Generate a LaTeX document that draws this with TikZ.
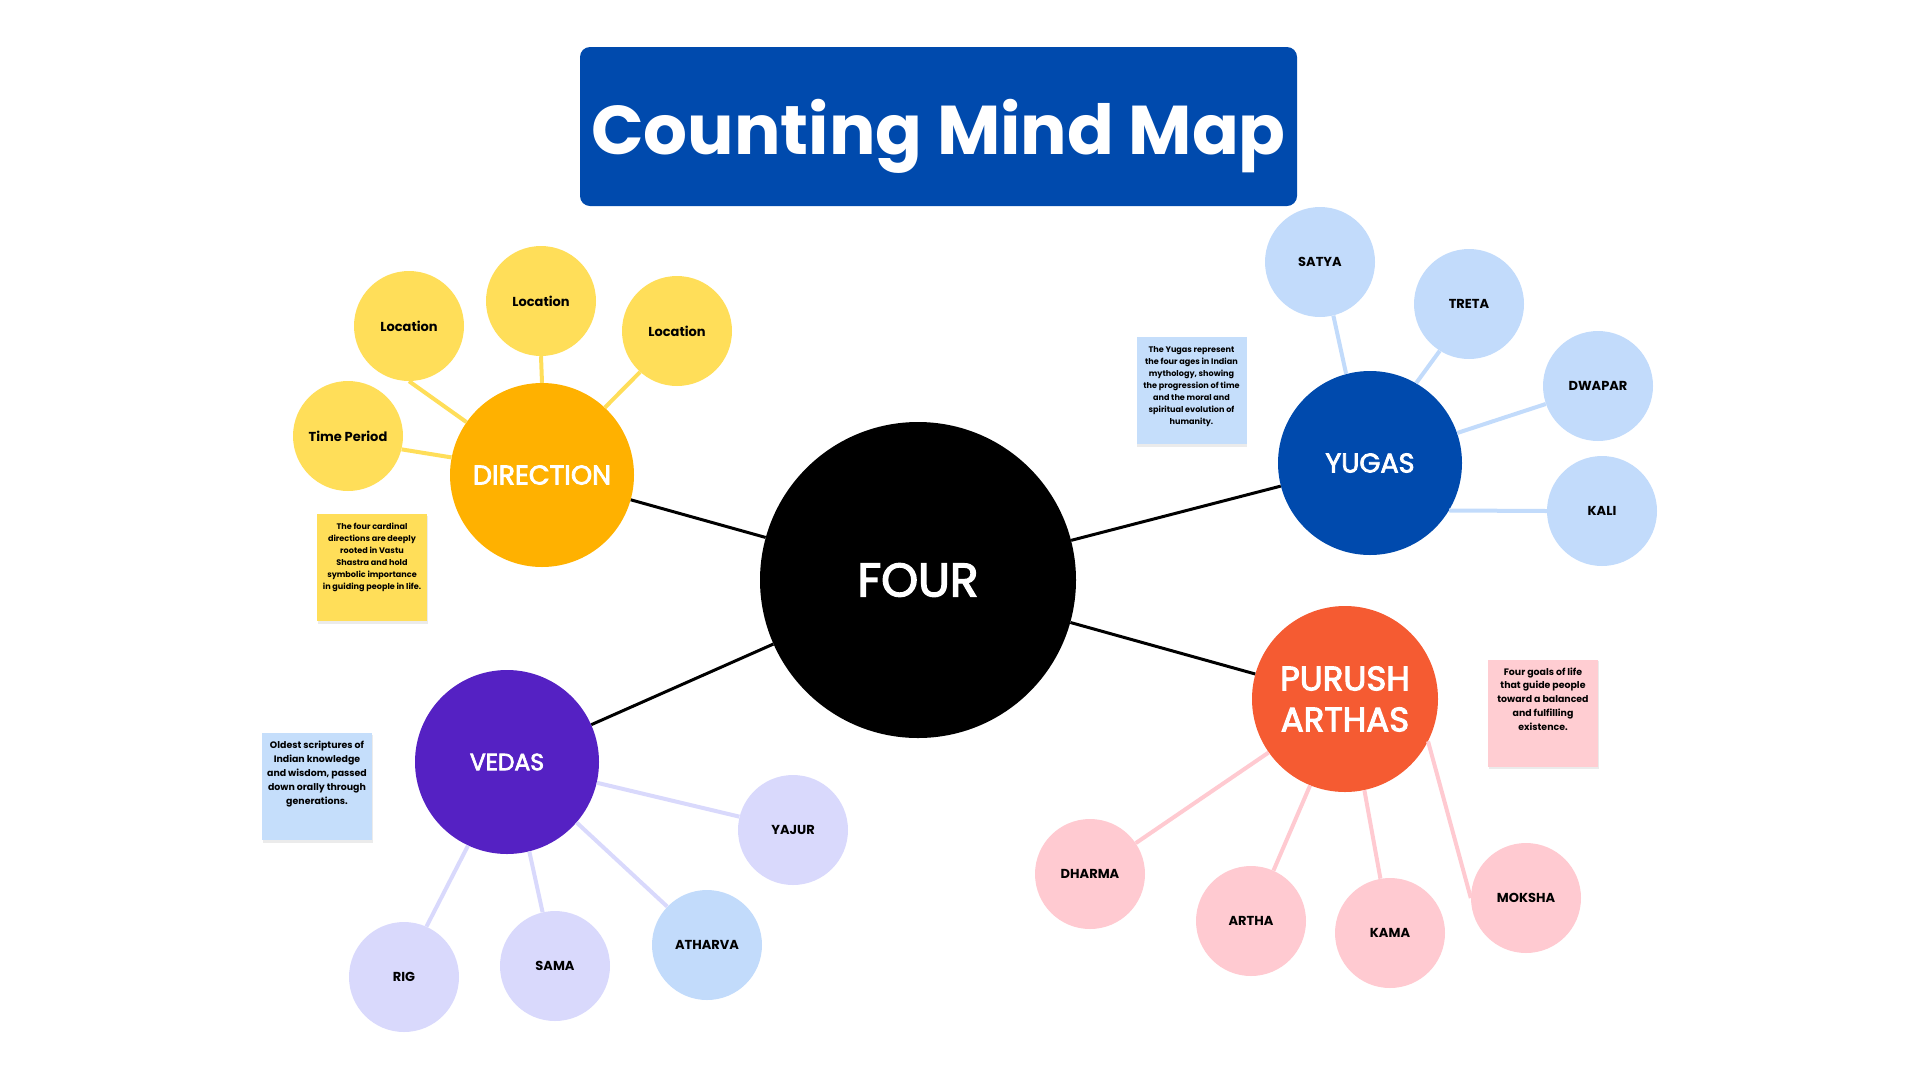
\documentclass[tikz,border=0pt]{standalone}
\usepackage{fontspec}
\setmainfont{Poppins}
\newfontfamily\midfont{Poppins}[FakeBold=3]
\usetikzlibrary{positioning}

\definecolor{titleblue}{HTML}{004AAD}
\definecolor{dirorange}{HTML}{FFB100}
\definecolor{sunyellow}{HTML}{FFDE59}
\definecolor{skyblue}{HTML}{C2DBFB}
\definecolor{redorange}{HTML}{F55B32}
\definecolor{rosepink}{HTML}{FFCAD1}
\definecolor{vedaviolet}{HTML}{5521C3}
\definecolor{lavender}{HTML}{D9D9FC}
\definecolor{noteblue}{HTML}{C5DEFB}
\definecolor{notepink}{HTML}{FFCDD2}

\begin{document}
\begin{tikzpicture}[
    x=1pt, y=-1pt,
    hub/.style={circle, fill=black, text=white, minimum size=316pt, inner sep=0pt, font=\midfont\fontsize{47}{52}\selectfont},
    topic/.style={circle, text=white, minimum size=184pt, inner sep=0pt, align=center, font=\midfont\fontsize{27}{33}\selectfont},
    leaf/.style={circle, minimum size=110pt, inner sep=0pt, font=\bfseries\fontsize{13}{16}\selectfont},
    note/.style={minimum width=110pt, minimum height=107pt, inner sep=0pt},
    notetext/.style={align=center, inner sep=0pt, font=\bfseries\fontsize{8.1}{12}\selectfont},
    bignotetext/.style={notetext, font=\bfseries\fontsize{9.4}{13.9}\selectfont},
    spoke/.style={line width=3pt},
    twig/.style={line width=4pt}
]
\useasboundingbox (0,0) rectangle (1920,1080);

% title
\node[fill=titleblue, rounded corners=10pt, minimum width=717pt, minimum height=159pt, text=white,
      text depth=0pt, font=\bfseries\fontsize{69}{76}\selectfont] (title) at (938.5,126.5) {Counting Mind Map};

% centre and main topics
\node[hub] (four) at (918,580) {FOUR};
\node[topic, fill=dirorange] (direction) at (542,475) {DIRECTION};
\node[topic, fill=titleblue] (yugas) at (1370,463) {YUGAS};
\node[topic, fill=redorange, minimum size=186pt, font=\midfont\fontsize{34}{41}\selectfont] (purush) at (1345,699) {PURUSH\\ARTHAS};
\node[topic, fill=vedaviolet, font=\midfont\fontsize{23.5}{28}\selectfont] (vedas) at (507,762) {VEDAS};

\draw[spoke] (four) -- (direction);
\draw[spoke] (four) -- (yugas);
\draw[spoke] (four) -- (purush);
\draw[spoke] (four) -- (vedas);

% direction
\node[leaf, fill=sunyellow] (timeperiod) at (348,436) {Time Period};
\node[leaf, fill=sunyellow] (locationa) at (409,326) {Location};
\node[leaf, fill=sunyellow] (locationb) at (541,301) {Location};
\node[leaf, fill=sunyellow] (locationc) at (677,331) {Location};
\draw[twig, sunyellow] (timeperiod.-14) -- (direction.169);
\draw[twig, sunyellow] (locationa.270) -- (direction.145);
\draw[twig, sunyellow] (locationb.south) -- (direction.north);
\draw[twig, sunyellow] (locationc.228) -- (direction.47);

% yugas
\node[leaf, fill=skyblue] (satya) at (1320,262) {SATYA};
\node[leaf, fill=skyblue] (treta) at (1469,304) {TRETA};
\node[leaf, fill=skyblue] (dwapar) at (1598,386) {DWAPAR};
\node[leaf, fill=skyblue] (kali) at (1602,511) {KALI};
\draw[twig, skyblue] (satya.-76) -- (yugas.105);
\draw[twig, skyblue] (treta.238) -- (yugas.60);
\draw[twig, skyblue] (dwapar.199) -- (yugas.19);
\draw[twig, skyblue] (kali.west) -- (yugas.-31);

% purush arthas
\node[leaf, fill=rosepink] (dharma) at (1090,874) {DHARMA};
\node[leaf, fill=rosepink] (artha) at (1251,921) {ARTHA};
\node[leaf, fill=rosepink] (kama) at (1390,933) {KAMA};
\node[leaf, fill=rosepink] (moksha) at (1526,898) {MOKSHA};
\draw[twig, rosepink] (dharma.34) -- (purush.215);
\draw[twig, rosepink] (artha.66) -- (purush.248);
\draw[twig, rosepink] (kama.100) -- (purush.282);
\draw[twig, rosepink] (moksha.west) -- (purush.333);

% vedas
\node[leaf, fill=lavender] (yajur) at (793,830) {YAJUR};
\node[leaf, fill=skyblue] (atharva) at (707,945) {ATHARVA};
\node[leaf, fill=lavender] (sama) at (555,966) {SAMA};
\node[leaf, fill=lavender] (rig) at (404,977) {RIG};
\draw[twig, lavender] (yajur.166) -- (vedas.-13);
\draw[twig, lavender] (atharva.136) -- (vedas.-41);
\draw[twig, lavender] (sama.103) -- (vedas.-76);
\draw[twig, lavender] (rig.66) -- (vedas.245);

% sticky notes
\fill[black!8] (318,516) rectangle (428,624);
\node[note, fill=sunyellow] (dirnote) at (372,567.5) {};
\node[notetext, below=9pt of dirnote.north, anchor=north] {The four cardinal\\directions are deeply\\rooted in Vastu\\Shastra and hold\\symbolic importance\\in guiding people in life.};

\fill[black!8] (1137,339) rectangle (1247,447);
\node[note, fill=noteblue] (yuganote) at (1191.5,390.5) {};
\node[notetext, below=9pt of yuganote.north, anchor=north] {The Yugas represent\\the four ages in Indian\\mythology, showing\\the progression of time\\and the moral and\\spiritual evolution of\\humanity.};

\fill[black!8] (263,735) rectangle (373,843);
\node[note, fill=noteblue] (vedanote) at (317,786.5) {};
\node[bignotetext, below=8pt of vedanote.north, anchor=north] {Oldest scriptures of\\Indian knowledge\\and wisdom, passed\\down orally through\\generations.};

\fill[black!8] (1489,661) rectangle (1599,769);
\node[note, fill=notepink] (purushnote) at (1543,713) {};
\node[bignotetext, below=8pt of purushnote.north, anchor=north] {Four goals of life\\that guide people\\toward a balanced\\and fulfilling\\existence.};
\end{tikzpicture}
\end{document}
